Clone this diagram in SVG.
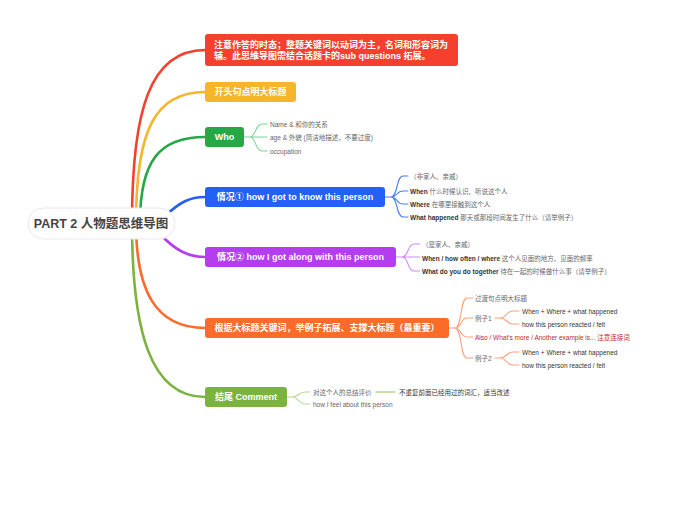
<svg xmlns="http://www.w3.org/2000/svg" width="673" height="527" viewBox="0 0 673 527">
<style>
text{font-family:"Liberation Sans","Noto Sans CJK SC",sans-serif;dominant-baseline:central}
.mt{font-size:9px;font-weight:bold;fill:#fff;text-anchor:middle}
.ct{font-size:6.5px;fill:#666}
.dk{fill:#333}
.rd{fill:#C0282D}
.cb{fill:#333;font-weight:bold}
.main{fill:none;stroke-width:2.6;stroke-linecap:round}
.sub{fill:none;stroke-width:1.1;stroke-linecap:round}
</style>
<rect width="673" height="527" fill="#fff"/>
<g id="connectors">
<path class="main" stroke="#F5402F" d="M132,223 C132,110 150,50 205,50"/>
<path class="main" stroke="#F7B52B" d="M136,223 C136,130 155,92 205,92"/>
<path class="main" stroke="#26A846" d="M140,223 C140,160 160,137 205,137"/>
<path class="main" stroke="#2360F5" d="M165,216 C180,202 190,197 205,197"/>
<path class="main" stroke="#B53DF0" d="M160,234 C175,250 188,257 205,257"/>
<path class="main" stroke="#FB6C2B" d="M136,223 C136,290 155,328 205,328"/>
<path class="main" stroke="#7AB33E" d="M132,223 C132,330 150,397 205,397"/>
<g stroke="#7fd296" class="sub">
<path d="M244,137 H250 M250,137 C256,137 255,124 262,124 H267 M250,137 H267 M250,137 C256,137 255,151 262,151 H267"/>
</g>
<g stroke="#4d7ff7" class="sub">
<path d="M385,197 H391 M391,197 C398,197 396,176 403,176 H408 M391,197 C398,197 396,191 403,191 H408 M391,197 C398,197 396,204 403,204 H408 M391,197 C398,197 396,217 403,217 H408"/>
</g>
<g stroke="#d08cf6" class="sub">
<path d="M396,257 H402 M402,257 C409,257 407,244 414,244 H420 M402,257 H420 M402,257 C409,257 407,271 414,271 H420"/>
</g>
<g stroke="#fca27c" class="sub">
<path d="M449,328 H455 M455,328 C462,328 460,298 467,298 H473 M455,328 C462,328 460,318 467,318 H473 M455,328 C462,328 460,337 467,337 H473 M455,328 C462,328 460,358 467,358 H473"/>
<path d="M495,318 H500 C507,318 506,311 513,311 H519 M500,318 C507,318 506,324 513,324 H519"/>
<path d="M495,358 H500 C507,358 506,352 513,352 H519 M500,358 C507,358 506,365 513,365 H519"/>
</g>
<g stroke="#b3d88f" class="sub">
<path d="M287,397 H292 M292,397 C299,397 298,392 305,392 H310 M292,397 C299,397 298,404 305,404 H310"/>
<path d="M376,392 H395" stroke-width="1.4"/>
</g>
</g>
<g id="root">
<rect x="28" y="208" width="147" height="31" rx="15.5" fill="#fff" stroke="#e8e8e8"/>
<text x="101" y="224" font-size="12.5" font-weight="bold" fill="#444" text-anchor="middle">PART 2 人物题思维导图</text>
</g>
<g id="n-tense">
<rect x="205" y="34" width="253" height="32" rx="3" fill="#F5402F"/>
<text x="214" y="45" font-size="9" font-weight="bold" fill="#fff">注意作答的时态；整题关键词以动词为主，名词和形容词为</text>
<text x="214" y="56" font-size="9" font-weight="bold" fill="#fff">辅。此思维导图需结合话题卡的sub questions 拓展。</text>
</g>
<g id="n-opening">
<rect x="205" y="82" width="91" height="20" rx="3" fill="#F7B52B"/>
<text class="mt" x="250.5" y="92">开头句点明大标题</text>
</g>
<g id="n-who">
<rect x="205" y="127" width="39" height="20" rx="3" fill="#26A846"/>
<text class="mt" x="224.5" y="137">Who</text>
<text class="ct" x="270" y="124">Name &amp; 和你的关系</text>
<text class="ct" x="270" y="137">age &amp; 外貌 (简洁地描述，不要过度)</text>
<text class="ct" x="270" y="151">occupation</text>
</g>
<g id="n-know">
<rect x="205" y="187" width="180" height="20" rx="3" fill="#2360F5"/>
<text class="mt" x="295" y="197">情况① how I got to know this person</text>
<text class="ct" x="410" y="176">（非家人、亲戚）</text>
<text class="ct" x="410" y="191"><tspan class="cb">When</tspan> 什么时候认识、听说这个人</text>
<text class="ct" x="410" y="204"><tspan class="cb">Where</tspan> 在哪里接触到这个人</text>
<text class="ct" x="410" y="217"><tspan class="cb">What happened</tspan> 那天或那段时间发生了什么（请举例子）</text>
</g>
<g id="n-along">
<rect x="205" y="247" width="191" height="20" rx="3" fill="#B53DF0"/>
<text class="mt" x="300.5" y="257">情况② how I got along with this person</text>
<text class="ct" x="422" y="244">（是家人、亲戚）</text>
<text class="ct" x="422" y="258"><tspan class="cb">When / how often / where</tspan> 这个人见面的地方、见面的频率</text>
<text class="ct" x="422" y="271"><tspan class="cb">What do you do together</tspan> 待在一起的时候做什么事（请举例子）</text>
</g>
<g id="n-examples">
<rect x="205" y="318" width="244" height="20" rx="3" fill="#FB6C2B"/>
<text class="mt" x="327" y="328">根据大标题关键词，举例子拓展、支撑大标题（最重要）</text>
<text class="ct" x="475" y="298">过渡句点明大标题</text>
<text class="ct" x="475" y="318">例子1</text>
<text class="ct dk" x="522" y="311">When + Where + what happened</text>
<text class="ct dk" x="522" y="324">how this person reacted / felt</text>
<text class="ct rd" x="475" y="337">Also / What's more / Another example is... 注意连接词</text>
<text class="ct" x="475" y="358">例子2</text>
<text class="ct dk" x="522" y="352">When + Where + what happened</text>
<text class="ct dk" x="522" y="365">how this person reacted / felt</text>
</g>
<g id="n-comment">
<rect x="205" y="387" width="82" height="20" rx="3" fill="#7AB33E"/>
<text class="mt" x="246" y="397">结尾 Comment</text>
<text class="ct" x="313" y="392">对这个人的总结评价</text>
<text class="ct dk" x="399" y="392">不重复前面已经用过的词汇，适当改述</text>
<text class="ct" x="313" y="404">how I feel about this person</text>
</g>
</svg>
